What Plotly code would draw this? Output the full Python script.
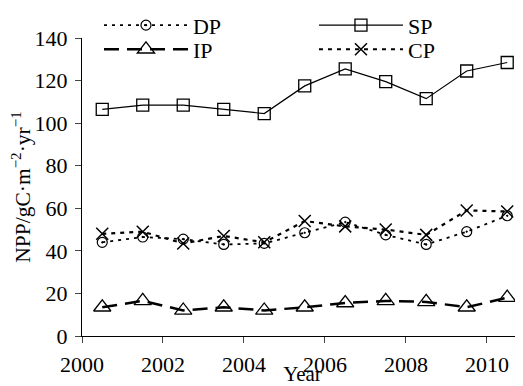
import plotly.graph_objects as go

years = [2000.5, 2001.5, 2002.5, 2003.5, 2004.5, 2005.5, 2006.5, 2007.5, 2008.5, 2009.5, 2010.5]
dp = [44, 46.5, 45.5, 43, 43.5, 48.5, 53.5, 47.5, 43, 49, 56.5]
sp = [106.5, 108.5, 108.5, 106.5, 104.5, 117.5, 125.5, 119.5, 111.5, 124.5, 128.5]
ip = [13.5, 16.5, 12, 13.5, 12, 13.5, 15.5, 16.5, 16, 13.5, 18]
cp = [48, 49, 43.5, 47, 44, 54, 51.5, 50, 47.5, 59, 58.5]
tick_years = [2000, 2002, 2004, 2006, 2008, 2010]
y_ticks = [0, 20, 40, 60, 80, 100, 120, 140]

FONT = "Liberation Serif, Times New Roman, serif"

fig = go.Figure()
fig.add_trace(go.Scatter(x=years, y=dp, name="DP", mode="lines+markers", legend="legend",
                         line=dict(color="black", width=1.8, dash="3px,5px"),
                         marker=dict(symbol="circle-open-dot", size=10, color="black",
                                     line=dict(color="black", width=1.2))))
fig.add_trace(go.Scatter(x=years, y=sp, name="SP", mode="lines+markers", legend="legend2",
                         line=dict(color="black", width=1.2),
                         marker=dict(symbol="square-open", size=12, color="black",
                                     line=dict(color="black", width=1.3))))
fig.add_trace(go.Scatter(x=years, y=ip, name="IP", mode="lines+markers", legend="legend3",
                         line=dict(color="black", width=2.5, dash="15px,8px"),
                         marker=dict(symbol="triangle-up-open", size=15, color="black",
                                     line=dict(color="black", width=1.3))))
fig.add_trace(go.Scatter(x=years, y=cp, name="CP", mode="lines+markers", legend="legend4",
                         line=dict(color="black", width=2.2, dash="4px,5px"),
                         marker=dict(symbol="x-thin-open", size=12, color="black",
                                     line=dict(color="black", width=1.5))))


def leg(x, y):
    return dict(x=x, y=y, xanchor="left", yanchor="top", itemwidth=84,
                bgcolor="rgba(0,0,0,0)", font=dict(family=FONT, size=22))


# page body has an 8px margin, so the figure is sized/offset to compensate
fig.update_layout(
    width=515, height=378,
    margin=dict(l=74, r=0, t=30, b=50, autoexpand=False),
    plot_bgcolor="white", paper_bgcolor="white",
    font=dict(family=FONT, size=22, color="black"),
    showlegend=True,
    legend=leg(0.0385, 1.113),
    legend2=leg(0.526, 1.113),
    legend3=leg(0.0385, 1.032),
    legend4=leg(0.526, 1.032),
    xaxis=dict(range=[2000, 2010.89], tickvals=tick_years, ticks="outside", ticklen=6,
               showline=True, linecolor="black", linewidth=1.2, showgrid=False,
               zeroline=False, tickfont=dict(size=22), automargin=False,
               ticklabelstandoff=2,
               title=dict(text="Year", standoff=4, font=dict(size=21))),
    yaxis=dict(range=[0, 140], tickvals=y_ticks, ticks="outside", ticklen=6,
               showline=True, linecolor="black", linewidth=1.2, showgrid=False,
               zeroline=False, tickfont=dict(size=22), automargin=False,
               ticklabelstandoff=3,
               title=dict(text="NPP/gC·m<sup>−2</sup>·yr<sup>−1</sup>", standoff=4,
                          font=dict(size=21.5))),
)

fig.write_html("out.html")
